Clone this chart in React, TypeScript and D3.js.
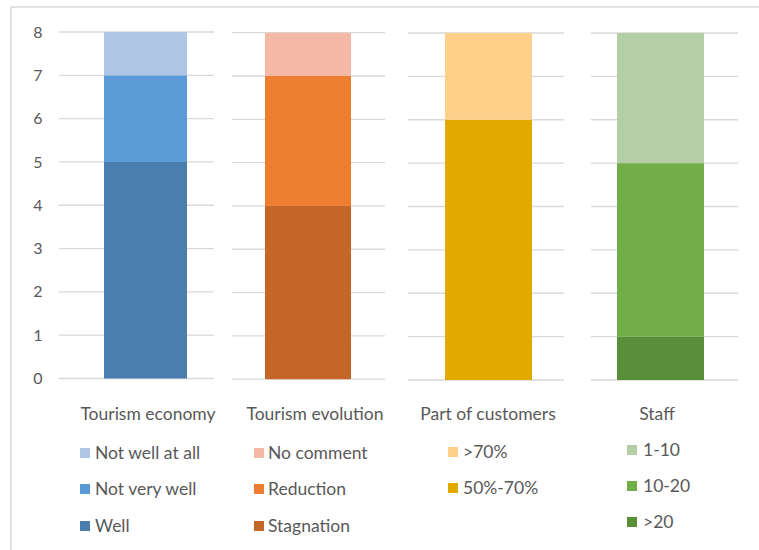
import React from "react";
import * as d3 from "d3";

const categories = ["Tourism economy", "Tourism evolution", "Part of customers", "Staff"];
// stacked bottom -> top
const seriesNames = [
  ["Well", "Not very well", "Not well at all"],
  ["Stagnation", "Reduction", "No comment"],
  ["50%-70%", ">70%"],
  [">20", "10-20", "1-10"],
];
const seriesValues = [
  [5, 2, 1],
  [4, 3, 1],
  [6, 2],
  [1, 4, 3],
];
const seriesColors = [
  ["#4A7EAF", "#5B9BD5", "#AEC5E6"],
  ["#C46628", "#ED7D31", "#F4B9A6"],
  ["#E2AA00", "#FFD08A"],
  ["#5A8F3A", "#72AD48", "#B5CEA7"],
];
const yTicks = [0, 1, 2, 3, 4, 5, 6, 7, 8];

// layout per panel
const panels = [
  { gx0: 59, gx1: 214, bx0: 104, bx1: 187, yTop: 32, yBot: 378.5, labelX: 148, swX: 80, txX: 95, rows: [453, 489, 526] },
  { gx0: 232, gx1: 385, bx0: 265, bx1: 351, yTop: 32.7, yBot: 379.2, labelX: 315, swX: 254, txX: 268, rows: [453, 489, 526] },
  { gx0: 408, gx1: 564, bx0: 445, bx1: 532, yTop: 33, yBot: 380, labelX: 488, swX: 448, txX: 463, rows: [452, 488] },
  { gx0: 591, gx1: 738, bx0: 617, bx1: 704, yTop: 33, yBot: 380, labelX: 657, swX: 627, txX: 643, rows: [450, 486, 522] },
];

const FONT = "Lato, 'Open Sans', sans-serif";
const TEXT = "#595959";

export default function App() {
  const W = 759, H = 550;
  return (
    <svg width={W} height={H} style={{ position: "absolute", left: 0, top: 0, background: "#fff" }}>
      <rect x={0} y={0} width={W} height={H} fill="#fff" />
      <line x1={11} x2={W} y1={7} y2={7} stroke="#D9D9D9" strokeWidth={1.5} />
      <line x1={11} x2={11} y1={7} y2={H} stroke="#D9D9D9" strokeWidth={1.5} />
      {panels.map((p, i) => {
        const y = d3.scaleLinear().domain([0, 8]).range([p.yBot, p.yTop]);
        const stack = d3.cumsum(seriesValues[i]);
        const n = seriesValues[i].length;
        const legendOrder = d3.range(n).reverse();
        return (
          <g key={i}>
            {yTicks.map((t) => (
              <line key={t} x1={p.gx0} x2={p.gx1} y1={y(t)} y2={y(t)} stroke="#D9D9D9" strokeWidth={1.3} />
            ))}
            {i === 0 &&
              yTicks.map((t) => (
                <text key={t} x={38} y={y(t)} dy="0.35em" textAnchor="middle" fontFamily={FONT} fontSize={16} fill={TEXT}>
                  {t}
                </text>
              ))}
            {seriesValues[i].map((v, j) => {
              const top = y(stack[j]);
              const bot = y(stack[j] - v);
              return <rect key={j} x={p.bx0} width={p.bx1 - p.bx0} y={top} height={bot - top} fill={seriesColors[i][j]} />;
            })}
            <text x={p.labelX} y={414} dy="0.35em" textAnchor="middle" fontFamily={FONT} fontSize={17.5} fill={TEXT}>
              {categories[i]}
            </text>
            {legendOrder.map((j, k) => (
              <g key={j}>
                <rect x={p.swX} y={p.rows[k] - 5} width={10} height={10} fill={seriesColors[i][j]} />
                <text x={p.txX} y={p.rows[k]} dy="0.35em" fontFamily={FONT} fontSize={17.5} fill={TEXT}>
                  {seriesNames[i][j]}
                </text>
              </g>
            ))}
          </g>
        );
      })}
    </svg>
  );
}
